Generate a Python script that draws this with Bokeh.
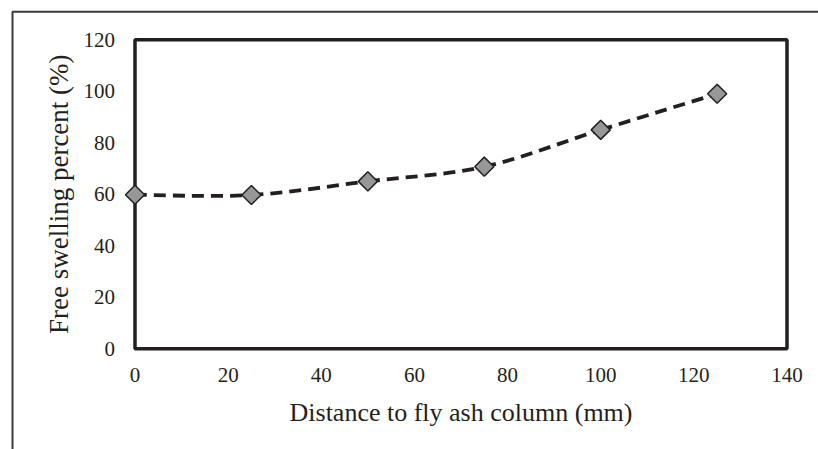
import numpy as np
from bokeh.plotting import figure
from bokeh.models import Range1d, FixedTicker, Label
from bokeh.embed import file_html
from bokeh.resources import INLINE

# ---- data ----
distance_mm = [0, 25, 50, 75, 100, 125]
swelling_pct = [59.8, 59.7, 65.0, 70.7, 85.0, 99.0]
x_ticks = [0, 20, 40, 60, 80, 100, 120, 140]
y_ticks = [0, 20, 40, 60, 80, 100, 120]
x_title = "Distance to fly ash column (mm)"
y_title = "Free swelling percent (%)"

FONT = "Liberation Serif"
INK = "#231f20"

# ---- layout (pixels) ----
W, H = 818, 449
FL, FR, FT, FB = 134.5, 786.5, 39.2, 348.3   # visible plot box edges

xmin, xmax = x_ticks[0], x_ticks[-1]
ymin, ymax = y_ticks[0], y_ticks[-1]
sx = (xmax - xmin) / (FR - FL)
sy = (ymax - ymin) / (FB - FT)
x_start = xmin - FL * sx
x_end = xmax + (W - FR) * sx
y_start = ymin - (H - FB) * sy
y_end = ymax + FT * sy


def px_x(px):
    return x_start + px * sx


def px_y(py):
    return y_end - py * sy


p = figure(width=W, height=H, output_backend="svg", toolbar_location=None,
           x_range=Range1d(x_start, x_end), y_range=Range1d(y_start, y_end),
           min_border_left=0, min_border_right=0, min_border_top=0,
           min_border_bottom=0)
p.background_fill_color = "white"
p.border_fill_color = "white"
p.grid.visible = False
p.outline_line_color = None

for ax, ticks in ((p.xaxis, x_ticks), (p.yaxis, y_ticks)):
    ax.ticker = FixedTicker(ticks=ticks)
    ax.axis_line_color = None
    ax.major_tick_in = 0
    ax.major_tick_out = 0
    ax.minor_tick_in = 0
    ax.minor_tick_out = 0
    ax.major_label_text_font = FONT
    ax.major_label_text_font_size = "21px"
    ax.major_label_text_color = INK

p.xaxis.fixed_location = ymin
p.yaxis.fixed_location = xmin
p.xaxis.major_label_standoff = 19
p.yaxis.major_label_standoff = 20

# axis titles, centred on the visible plot box
p.add_layout(Label(x=(xmin + xmax) / 2, y=px_y(412), text=x_title,
                   text_font=FONT, text_font_size="26px", text_color=INK,
                   text_align="center", text_baseline="alphabetic"))
p.add_layout(Label(x=px_x(58), y=(ymin + ymax) / 2, text=y_title, angle=np.pi / 2,
                   text_font=FONT, text_font_size="27px", text_color=INK,
                   text_align="center", text_baseline="alphabetic"))

# outer chart border (top and left edges visible in the reference)
p.line(x=[px_x(12), px_x(12), px_x(W + 20)], y=[px_y(H + 20), px_y(11.2), px_y(11.2)],
       line_color="#3a3a3a", line_width=2)

# plot box
p.quad(left=[xmin], right=[xmax], bottom=[ymin], top=[ymax],
       fill_color=None, line_color=INK, line_width=3.5)

# smoothed (Excel-style) connecting line as bezier segments derived from the data
xs = np.array(distance_mm, dtype=float)
ys = np.array(swelling_pct, dtype=float)
n = len(xs)
xp = np.concatenate([[xs[0]], xs, [xs[-1]]])
yp = np.concatenate([[ys[0]], ys, [ys[-1]]])
i = np.arange(n - 1)
cx0 = xp[i + 1] + (xp[i + 2] - xp[i]) / 6.0
cy0 = yp[i + 1] + (yp[i + 2] - yp[i]) / 6.0
cx1 = xp[i + 2] - (xp[i + 3] - xp[i + 1]) / 6.0
cy1 = yp[i + 2] - (yp[i + 3] - yp[i + 1]) / 6.0
p.bezier(x0=xs[:-1], y0=ys[:-1], x1=xs[1:], y1=ys[1:],
         cx0=cx0, cy0=cy0, cx1=cx1, cy1=cy1,
         line_color=INK, line_width=3.8, line_dash="12 7")

p.scatter(distance_mm, swelling_pct, marker="square", angle=np.pi / 4, size=13.5,
          fill_color="#979797", line_color=INK, line_width=1.5)

open("out.html", "w").write(file_html(p, INLINE))
